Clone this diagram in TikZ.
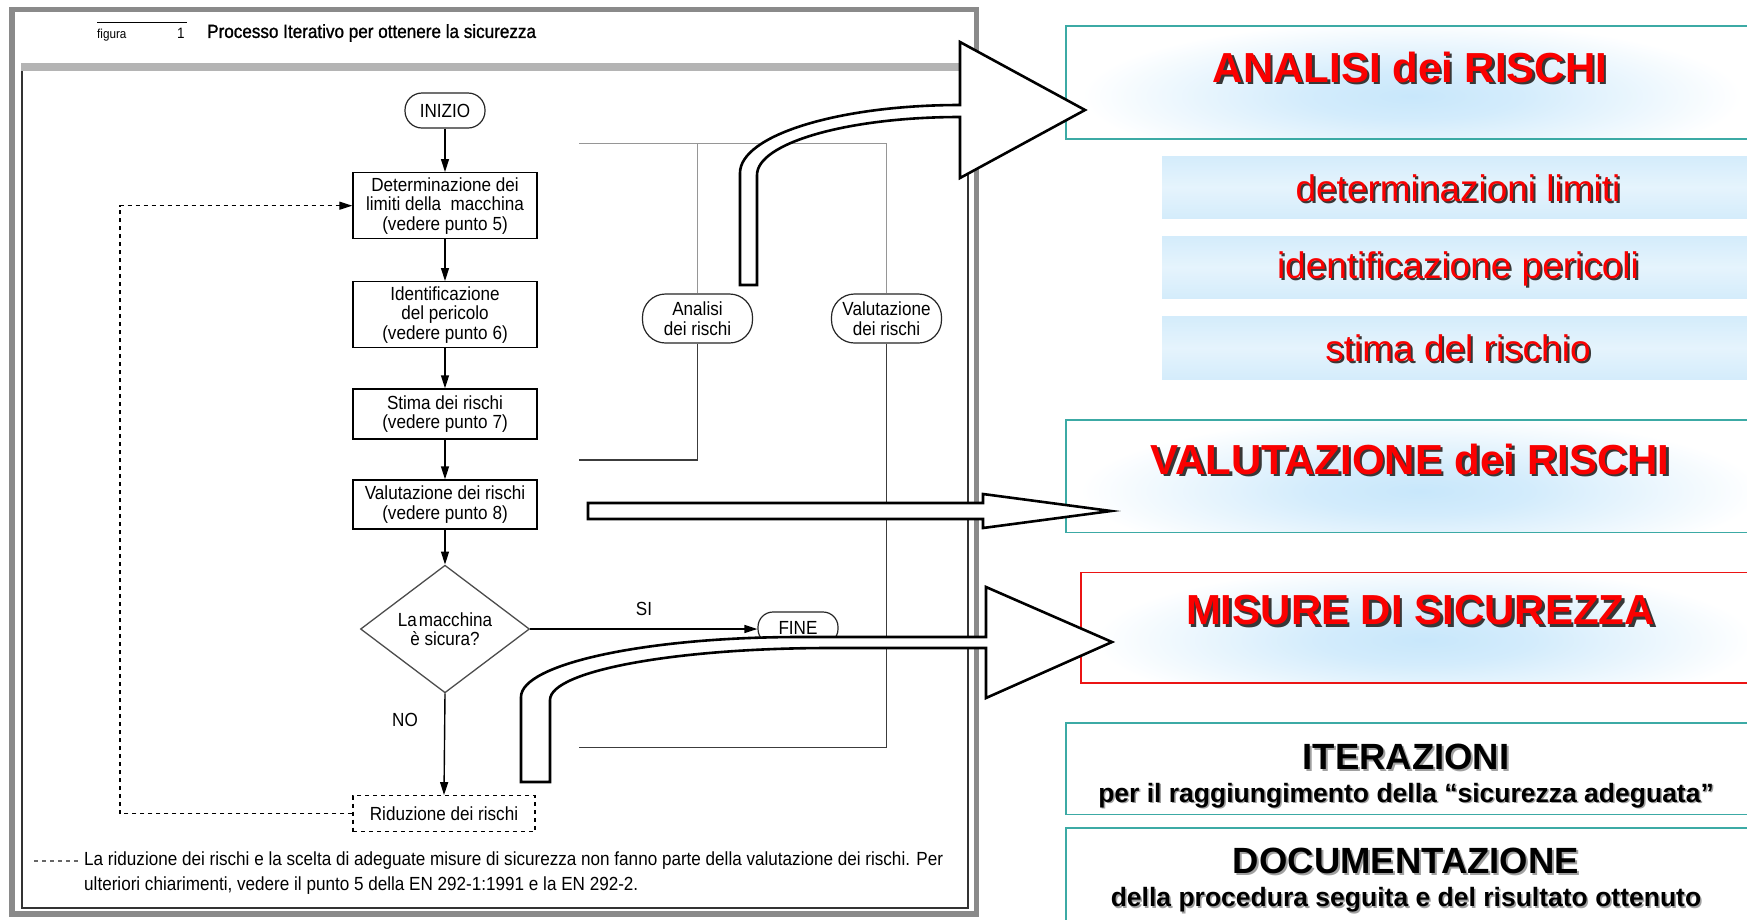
\documentclass[tikz,border=0pt]{standalone}
\usepackage{fontspec}
\setmainfont{Liberation Sans}
\newfontfamily\flowfont[FakeStretch=0.9]{Liberation Sans}
\newfontfamily\flowheavy[FakeStretch=0.9,FakeBold=1.2]{Liberation Sans}
\usetikzlibrary{arrows.meta,calc,shapes.geometric}

\definecolor{framegray}{RGB}{138,138,138}
\definecolor{bandgray}{RGB}{180,180,180}
\definecolor{bracketgray}{RGB}{150,150,150}
\definecolor{bracketdark}{RGB}{60,60,60}
\definecolor{boxteal}{RGB}{60,170,165}
\definecolor{boxred}{RGB}{235,20,20}
\definecolor{titlered}{RGB}{250,0,0}
\definecolor{shadowdark}{RGB}{55,55,55}
\definecolor{shadowlight}{RGB}{160,160,160}
\definecolor{glowblue}{RGB}{200,231,251}
\definecolor{subblue}{RGB}{212,236,251}

% soft halo: fades to white at 25bp, which is the rim of the shaded path
\pgfdeclareradialshading{glowshade}{\pgfpoint{0bp}{0bp}}{%
  color(0bp)=(glowblue); color(8bp)=(glowblue!80!white); color(25bp)=(white); color(50bp)=(white)}

\newcommand\flowtext{\flowfont\fontsize{19}{19.5}\selectfont}
\newcommand\headtext{\fontsize{42}{48}\selectfont\bfseries}
\newcommand\itemtext{\fontsize{37}{42}\selectfont}
\newcommand\blacktext{\fontsize{36.5}{42}\selectfont\bfseries}
\newcommand\smalltext{\fontsize{26.5}{30}\selectfont\bfseries}

\begin{document}
\begin{tikzpicture}[x=1pt,y=-1pt,
  flowbox/.style={draw=black, line width=1.4pt, minimum width=184pt,
    align=center, inner sep=0pt, font=\flowtext},
  stadium/.style={draw=black!85, line width=1.2pt, align=center,
    inner sep=0pt, font=\flowtext},
  flowarrow/.style={-{Triangle[length=13pt,width=8pt]}, line width=1.4pt},
  bracketup/.style={draw=bracketgray, line width=1.4pt},
  bracketdown/.style={draw=bracketdark, line width=1.4pt},
  bigarrow/.style={draw=black, fill=white, line width=2.6pt, line join=miter},
  headred/.style={font=\headtext, text=titlered, inner sep=0pt},
  headshadow/.style={font=\headtext, text=shadowdark, inner sep=0pt},
  itemred/.style={font=\itemtext, text=titlered, inner sep=0pt},
  itemshadow/.style={font=\itemtext, text=shadowdark, inner sep=0pt},
  blackhead/.style={font=\blacktext, text=black, inner sep=0pt},
  blackshadow/.style={font=\blacktext, text=shadowlight, inner sep=0pt},
  blacksub/.style={font=\smalltext, text=black, inner sep=0pt},
  blacksubshadow/.style={font=\smalltext, text=shadowlight, inner sep=0pt},
  subband/.style={top color=subblue, bottom color=subblue, middle color=subblue!60!white}]

\useasboundingbox (0,0) rectangle (1747,919);
\clip (0,0) rectangle (1747,919);
\fill[white] (0,0) rectangle (1747,919);

% ---------- left panel: scanned flowchart ----------
\draw[framegray, line width=5.5pt] (12,9.5) rectangle (976.5,914);
\fill[bandgray] (21,63) rectangle (968,71);
\draw[black!80, line width=1.3pt] (22,71) -- (22,908) -- (968,908) -- (968,71);

\draw[black, line width=1.2pt] (97,22.7) -- (187,22.7);
\node[anchor=west, inner sep=0pt, font=\flowfont\fontsize{13}{14}\selectfont] (figlbl) at (97,35) {figura};
\node[inner sep=0pt, font=\flowfont\fontsize{15}{16}\selectfont] (fignum) at (181,33) {1};
\node[anchor=west, inner sep=0pt, font=\flowheavy\fontsize{19}{20}\selectfont] (figtitle) at (207,33) {Processo Iterativo per ottenere la sicurezza};

\node[stadium, minimum width=80pt, minimum height=35pt, rounded corners=17pt] (inizio) at (445,110.5) {INIZIO};
\node[flowbox, minimum height=66pt] (box1) at (445,205.7) {Determinazione dei\\limiti della\ \ macchina\\(vedere punto 5)};
\node[flowbox, minimum height=66pt] (box2) at (445,314.7) {Identificazione\\del pericolo\\(vedere punto 6)};
\node[flowbox, minimum height=50pt] (box3) at (445,414) {Stima dei rischi\\(vedere punto 7)};
\node[flowbox, minimum height=49pt] (box4) at (445,504.5) {Valutazione dei rischi\\(vedere punto 8)};
\node[diamond, draw=black!70, line width=1.3pt, minimum width=169pt, minimum height=115pt,
      inner sep=0pt, align=center, font=\flowtext] (decide) at (445,629) {La\hspace{2pt}macchina\\è sicura?};
\node[stadium, minimum width=80pt, minimum height=32pt, rounded corners=15pt] (fine) at (798,628) {FINE};
\node[draw=black, line width=1.3pt, dash pattern=on 4pt off 4pt, minimum width=182pt,
      minimum height=36pt, inner sep=0pt, font=\flowtext] (riduz) at (444,813.7) {Riduzione dei rischi};

\draw[flowarrow] (inizio) -- (box1);
\draw[flowarrow] (box1) -- (box2);
\draw[flowarrow] (box2) -- (box3);
\draw[flowarrow] (box3) -- (box4);
\draw[flowarrow] (box4) -- (decide);
\draw[flowarrow] (decide.east) -- (decide.east -| fine.west);
\draw[flowarrow] (decide.south) -- (riduz.north);
\node[inner sep=0pt, font=\flowtext] (silbl) at (644,609) {SI};
\node[inner sep=0pt, font=\flowtext] (nolbl) at (405,720) {NO};

\coordinate (loopTop) at (120,205.7);
\draw[-{Triangle[length=13pt,width=8pt]}, line width=1.3pt, dash pattern=on 4pt off 4pt]
  (riduz.west) -| (loopTop) -- (box1.west);

% side brackets
\node[stadium, minimum width=110pt, minimum height=49pt, rounded corners=23pt] (analisi) at (697.5,318.5) {Analisi\\dei rischi};
\node[stadium, minimum width=110pt, minimum height=49pt, rounded corners=23pt] (valut) at (886.5,318.5) {Valutazione\\dei rischi};
\coordinate (brTop) at (579,143.3);
\coordinate (brAna) at (579,460);
\coordinate (brVal) at (579,747.7);
\draw[bracketup] (brTop) -- (brTop -| valut.north) -- (valut.north);
\draw[bracketup] (brTop -| analisi.north) -- (analisi.north);
\draw[bracketdown] (analisi.south) |- (brAna);
\draw[bracketdown] (valut.south) |- (brVal);

% footnote
\draw[black!60, line width=1.2pt, dash pattern=on 4pt off 4pt] (34,861) -- (78,861);
\node[anchor=west, inner sep=0pt, font=\flowtext] (note1) at (84,861) {La riduzione dei rischi e la scelta di adeguate misure di sicurezza non fanno parte della valutazione dei rischi. Per};
\node[anchor=west, inner sep=0pt, font=\flowtext] (note2) at (84,886) {ulteriori chiarimenti, vedere il punto 5 della EN 292-1:1991 e la EN 292-2.};

% ---------- right panel: summary boxes ----------
\begin{scope}
  \clip (1066,26) rectangle (1760,139);
  \shade[shading=glowshade] (1412,96) ellipse [x radius=330, y radius=75];
\end{scope}
\draw[boxteal, line width=1.4pt] (1760,26) -- (1066,26) -- (1066,139) -- (1760,139);

\shade[subband] (1162,156) rectangle (1760,218.5);
\shade[subband] (1162,236) rectangle (1760,298.5);
\shade[subband] (1162,316.5) rectangle (1760,379);

\begin{scope}
  \clip (1066,420) rectangle (1760,532.6);
  \shade[shading=glowshade] (1420,491) ellipse [x radius=340, y radius=75];
\end{scope}
\draw[boxteal, line width=1.4pt] (1760,420) -- (1066,420) -- (1066,532.6) -- (1760,532.6);

\begin{scope}
  \clip (1081,572.7) rectangle (1760,683);
  \shade[shading=glowshade] (1425,640) ellipse [x radius=330, y radius=75];
\end{scope}
\draw[boxred, line width=1.4pt] (1760,572.7) -- (1081,572.7) -- (1081,683) -- (1760,683);

\draw[boxteal, line width=1.4pt] (1760,723) -- (1066,723) -- (1066,814.5) -- (1760,814.5);
\draw[boxteal, line width=1.4pt] (1760,828) -- (1066,828) -- (1066,930);

\node[headshadow] (anaS) at (1412.5,69.5) {ANALISI dei RISCHI};
\node[headred] (anaT) at (1410,67) {ANALISI dei RISCHI};
\node[itemshadow] (it1S) at (1460,190.5) {determinazioni limiti};
\node[itemred] (it1T) at (1458,188.5) {determinazioni limiti};
\node[itemshadow] (it2S) at (1460,270.5) {identificazione pericoli};
\node[itemred] (it2T) at (1458,268.5) {identificazione pericoli};
\node[itemshadow] (it3S) at (1460,350) {stima del rischio};
\node[itemred] (it3T) at (1458,348) {stima del rischio};
\node[headshadow] (valS) at (1412.5,461.5) {VALUTAZIONE dei RISCHI};
\node[headred] (valT) at (1410,459) {VALUTAZIONE dei RISCHI};
\node[headshadow] (misS) at (1423,613) {MISURE DI SICUREZZA};
\node[headred] (misT) at (1420.5,610.5) {MISURE DI SICUREZZA};

\node[blackshadow] (iterS) at (1408,758.5) {ITERAZIONI};
\node[blackhead] (iterT) at (1406,756.5) {ITERAZIONI};
\node[blacksubshadow] (iterSubS) at (1407.5,797) {per il raggiungimento della “sicurezza adeguata”};
\node[blacksub] (iterSub) at (1406,795.5) {per il raggiungimento della “sicurezza adeguata”};
\node[blackshadow] (docS) at (1408,863) {DOCUMENTAZIONE};
\node[blackhead] (docT) at (1406,861) {DOCUMENTAZIONE};
\node[blacksubshadow] (docSubS) at (1407.5,901.5) {della procedura seguita e del risultato ottenuto};
\node[blacksub] (docSub) at (1406,900) {della procedura seguita e del risultato ottenuto};

% ---------- block arrows linking the two panels ----------
\draw[bigarrow] (740,285) -- (740,173) .. controls (740,135.4) and (838.5,105) .. (960,105)
  -- (960,42) -- (1085,110) -- (960,178) -- (960,117)
  .. controls (847.9,117) and (757,143) .. (757,175) -- (757,285) -- cycle;
\draw[bigarrow] (588,503) -- (983,503) -- (983,494) -- (1111,511) -- (983,528) -- (983,519) -- (588,519) -- cycle;
\draw[bigarrow] (521,782) -- (521,697) .. controls (521,664) and (646,637) .. (800,637)
  -- (986,637) -- (986,587) -- (1112,642) -- (986,698) -- (986,648) -- (830,648)
  .. controls (675,648) and (550,671) .. (550,700) -- (550,782) -- cycle;
\end{tikzpicture}
\end{document}
